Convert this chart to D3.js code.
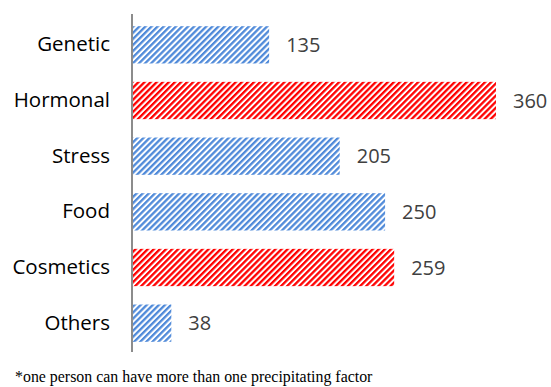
<!DOCTYPE html>
<html>
<head>
<meta charset="utf-8">
<script src="https://cdn.jsdelivr.net/npm/d3@7"></script>
<style>
  body { margin: 0; background: #fff; }
  svg { display: block; }
</style>
</head>
<body>
<div id="chart"></div>
<script>
// precipitating factors, counts
var categories = ["Genetic", "Hormonal", "Stress", "Food", "Cosmetics", "Others"];
var counts = [135, 360, 205, 250, 259, 38];
var highlighted = ["Hormonal", "Cosmetics"];
var footnote = "*one person can have more than one precipitating factor";

var width = 551, height = 387;

var svg = d3.select("#chart").append("svg")
    .attr("width", width)
    .attr("height", height);

var defs = svg.append("defs");

function hatch(id, color) {
    var p = defs.append("pattern")
        .attr("id", id)
        .attr("patternUnits", "userSpaceOnUse")
        .attr("width", 4.3)
        .attr("height", 4.3)
        .attr("patternTransform", "rotate(45)");
    p.append("rect")
        .attr("width", 4.3).attr("height", 4.3)
        .attr("fill", "#fff");
    p.append("rect")
        .attr("x", 0).attr("y", 0)
        .attr("width", 2.3).attr("height", 4.3)
        .attr("fill", color);
}
hatch("hatch-blue", "#4f8ad9");
hatch("hatch-red", "#ff0000");

var data = categories.map(function(c, i) {
    return { label: c, value: counts[i] };
});

var x = d3.scaleLinear()
    .domain([0, 360])
    .range([133, 496]);

var y = d3.scaleBand()
    .domain(categories)
    .range([17, 351])
    .paddingInner(0.33)
    .paddingOuter(0.165);

svg.selectAll(".bar")
    .data(data)
    .enter().append("rect")
    .attr("class", "bar")
    .attr("x", x(0))
    .attr("y", function(d) { return y(d.label); })
    .attr("width", function(d) { return x(d.value) - x(0); })
    .attr("height", y.bandwidth())
    .attr("fill", function(d) {
        return highlighted.indexOf(d.label) >= 0 ? "url(#hatch-red)" : "url(#hatch-blue)";
    });

svg.selectAll(".val")
    .data(data)
    .enter().append("text")
    .attr("class", "val")
    .attr("x", function(d) { return x(d.value) + 17; })
    .attr("y", function(d) { return y(d.label) + y.bandwidth() / 2; })
    .attr("dy", "0.35em")
    .attr("font-family", "Open Sans, sans-serif")
    .attr("font-size", 20)
    .attr("fill", "#404040")
    .text(function(d) { return d.value; });

// category axis
var yAxis = svg.append("g")
    .attr("transform", "translate(132,0)")
    .call(d3.axisLeft(y).tickSize(0).tickPadding(22));
yAxis.select(".domain").remove();
yAxis.selectAll("text")
    .attr("font-family", "Open Sans, sans-serif")
    .attr("font-size", 20.5)
    .attr("fill", "#000");

svg.append("line")
    .attr("x1", 132).attr("x2", 132)
    .attr("y1", 14).attr("y2", 352)
    .attr("stroke", "#8c8c8c")
    .attr("stroke-width", 2);

svg.append("text")
    .attr("x", 15)
    .attr("y", 382)
    .attr("font-family", "Liberation Serif, Times New Roman, serif")
    .attr("font-size", 15.9)
    .attr("fill", "#000")
    .text(footnote);
</script>
</body>
</html>
